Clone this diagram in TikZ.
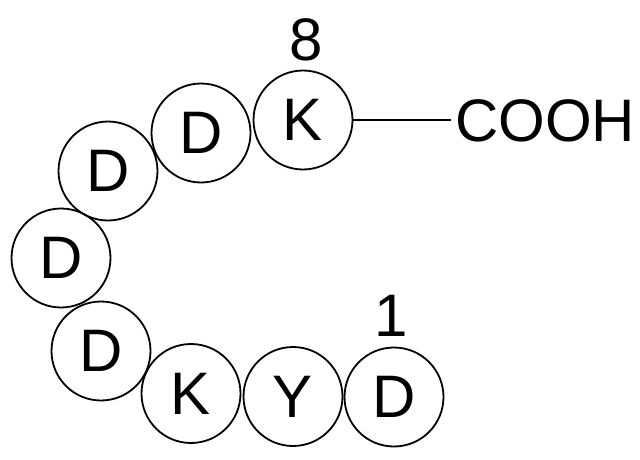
\documentclass[tikz,border=0pt]{standalone}
\usepackage{fontspec}
\setmainfont{Liberation Sans}
\begin{document}
\begin{tikzpicture}[x=1pt,y=1pt,
  res/.style={circle,draw=black,line width=1.8pt,minimum size=99pt,inner sep=0pt,font=\fontsize{60}{72}\selectfont},
  lbl/.style={inner sep=0pt,font=\fontsize{60}{72}\selectfont},
  bond/.style={draw=black,line width=1.8pt}]
\useasboundingbox (0,0) rectangle (640,459);
\node[res] (r8) at (303,339) {K};
\node[res] (r7) at (201,326) {D};
\node[res] (r6) at (108,288) {D};
\node[res] (r5) at (61,201) {D};
\node[res] (r4) at (101,108) {D};
\node[res] (r3) at (191,65.5) {K};
\node[res] (r2) at (293,62.5) {Y};
\node[res] (r1) at (394,62) {D};
\node[lbl] (n8) at (306,419.5) {8};
\node[lbl] (n1) at (391,143) {1};
\node[lbl,anchor=west,inner xsep=4pt] (cooh) at (451,338.5) {COOH};
\draw[bond] (r8.east) -- (r8.east -| cooh.west);
\end{tikzpicture}
\end{document}
